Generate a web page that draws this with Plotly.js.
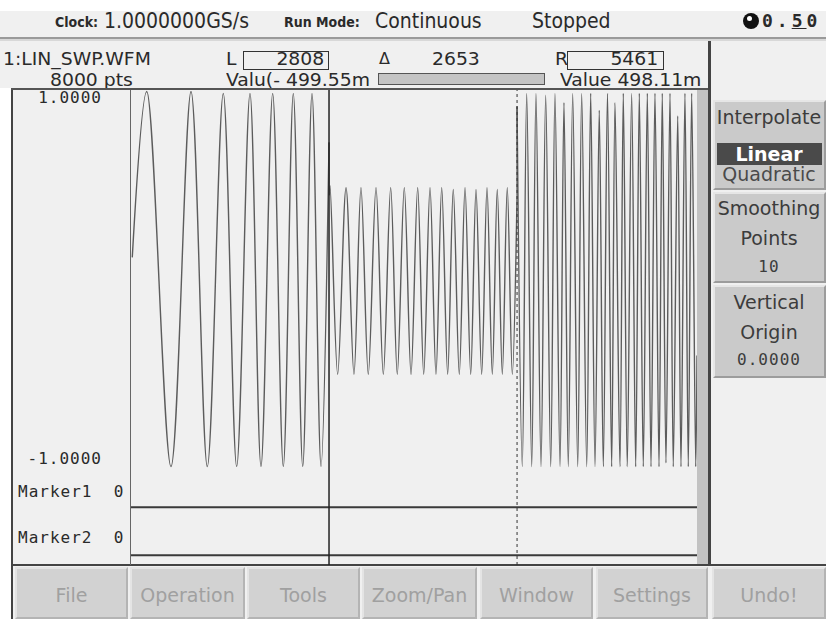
<!DOCTYPE html>
<html><head><meta charset="utf-8">
<script src="https://cdn.plot.ly/plotly-3.0.1.min.js"></script>
<style>
body{margin:0;width:826px;height:619px;overflow:hidden;background:#f0f0f0;position:relative;font-family:"DejaVu Sans",sans-serif;color:#2a2a2a}
.a{position:absolute;white-space:pre}
.b{position:absolute;box-sizing:border-box}
.cond{font-family:"DejaVu Sans Condensed","DejaVu Sans",sans-serif;font-stretch:condensed}
.mono{font-family:"DejaVu Sans Mono",monospace;letter-spacing:1px}
.wide{transform:scaleX(1.16);transform-origin:left center}
.wider{transform:scaleX(1.16);transform-origin:right center}
#plot{position:absolute;left:130px;top:90px;width:567px;height:475px}
</style></head><body>
<div id="chrome"></div>
<div id="plot"></div>
<script>
// ---------- data ----------
const totalPts = 8000;
const cursorL = 2808, cursorR = 5461, cursorDelta = 2653;
const valueL = "499.55m", valueR = "498.11m";
const seg1Idx = [32, 236, 578, 861, 1091, 1316, 1505, 1693, 1848, 2013, 2163, 2304, 2437, 2568, 2695, 2808];
const seg1Val = [0.12, 1.0, -0.99, 1.0, -0.99, 0.99, -0.99, 0.99, -0.99, 0.99, -0.99, 0.99, -0.99, 0.99, -0.99, 0.73];
const seg2Idx = [2808, 2822, 2930, 3048, 3160, 3259, 3362, 3471, 3574, 3678, 3771, 3870, 3965, 4059, 4144, 4233, 4317, 4398, 4482, 4561, 4646, 4727, 4807, 4882, 4962, 5037, 5112, 5182, 5253, 5323, 5394, 5461];
const seg2Val = [0.45, 0.5, -0.5, 0.49, -0.5, 0.49, -0.5, 0.49, -0.5, 0.49, -0.5, 0.49, -0.5, 0.49, -0.5, 0.49, -0.5, 0.49, -0.5, 0.48, -0.5, 0.49, -0.5, 0.48, -0.5, 0.49, -0.5, 0.48, -0.5, 0.49, -0.5, 0.45];
const seg3Idx = [5461, 5535, 5597, 5668, 5728, 5799, 5865, 5936, 5996, 6067, 6123, 6184, 6246, 6317, 6373, 6444, 6500, 6561, 6621, 6678, 6737, 6796, 6843, 6913, 6960, 7016, 7078, 7135, 7186, 7242, 7299, 7351, 7407, 7464, 7510, 7562, 7619, 7665, 7728, 7774, 7830, 7877, 7925, 7982, 8000];
const seg3Val = [0.92, -0.99, 0.99, -0.99, 0.99, -0.99, 0.98, -0.99, 0.99, -0.99, 0.94, -0.99, 0.99, -0.99, 0.99, -0.99, 0.99, -0.99, 0.9, -0.99, 0.99, -0.99, 0.94, -0.99, 0.99, -0.99, 0.99, -0.99, 0.99, -0.99, 0.99, -0.99, 0.99, -0.99, 0.99, -0.97, 0.99, -0.99, 0.87, -0.99, 0.99, -0.99, 0.99, -0.99, -0.4];
const markerIdx = [0, 8000];
const marker1Val = [0, 0];
const marker2Val = [0, 0];
const yTopLabel = "1.0000", yBottomLabel = "-1.0000";
const menuLabels = ["File", "Operation", "Tools", "Zoom/Pan", "Window", "Settings", "Undo!"];

// ---------- chrome ----------
const C = document.getElementById('chrome');
function box(x, y, w, h, css) { const d = document.createElement('div'); d.className = 'b'; d.style.cssText = `left:${x}px;top:${y}px;width:${w}px;height:${h}px;` + (css || ''); C.appendChild(d); return d; }
function txt(s, x, yc, size, cls, align, css, lh) {
  lh = lh || Math.round(size * 1.15);
  const d = document.createElement('div'); d.className = 'a ' + (cls || ''); d.textContent = s;
  d.style.cssText = `font-size:${size}px;height:${lh}px;line-height:${lh}px;top:${yc - lh / 2}px;` + (css || '');
  if (align === 'r') d.style.right = (826 - x) + 'px';
  else if (align === 'c') { d.style.left = (x - 100) + 'px'; d.style.width = '200px'; d.style.textAlign = 'center'; }
  else d.style.left = x + 'px';
  C.appendChild(d); return d;
}
box(0, 0, 826, 11, 'background:#fff');
box(0, 88, 12, 531, 'background:#fff');
// row 1
txt("Clock:", 55, 22, 14, 'cond', 'l', 'font-weight:bold');
txt("1.0000000GS/s", 104, 21, 21, 'cond', 'l', '', 20);
txt("Run Mode:", 284, 22, 14, 'cond', 'l', 'font-weight:bold');
txt("Continuous", 375, 21, 21, 'cond', 'l', '', 20);
txt("Stopped", 532, 21, 21, 'cond', 'l', '', 20);
box(743, 13, 16, 16, 'background:#111;border-radius:50%');
box(747, 16, 5, 5, 'background:#fff;border-radius:50%');
const k = txt("", 762, 21, 18, 'mono', 'l', 'font-weight:bold;letter-spacing:4px', 20);
k.innerHTML = '0.<u>5</u>0';
box(0, 37, 826, 2, 'background:#9a9a9a');
box(0, 39, 826, 2, 'background:#d8d8d8');
// row 2
const r2a = 59, r2b = 80;
txt("1:LIN_SWP.WFM", 3, r2a, 18, 'cond wide', 'l', '', 18);
txt(totalPts + " pts", 50, r2b, 18, 'cond wide', 'l', '', 18);
txt("L", 226, r2a, 18, 'cond wide', 'l', '', 18);
box(243, 51, 86, 19, 'border:1px solid #333');
txt(String(cursorL), 324, r2a, 18, 'cond wider', 'r', '', 18);
txt("Δ", 379, r2a, 16, '', 'l', '', 18);
txt(String(cursorDelta), 432, r2a, 18, 'cond wide', 'l', '', 18);
txt("R", 555, r2a, 18, 'cond wide', 'l', '', 18);
box(567, 51, 97, 19, 'border:1px solid #333');
txt(String(cursorR), 658, r2a, 18, 'cond wider', 'r', '', 18);
txt("Valu(- " + valueL, 226, r2b, 18, 'cond wide', 'l', '', 18);
box(378, 73, 167, 12, 'background:#c4c4c4;border:1px solid #555');
txt("Value " + valueR, 560, r2b, 18, 'cond wide', 'l', '', 18);
// panel frame
box(11, 88, 2, 531, 'background:#444');
box(11, 88, 700, 2, 'background:#555');
box(708, 41, 3, 525, 'background:#444');
box(697, 90, 11, 475, 'background:#c2c2c2');
box(11, 564, 815, 2, 'background:#444');
// left labels
txt(yTopLabel, 102, 98, 16, 'mono', 'r');
txt(yBottomLabel, 102, 459, 16, 'mono', 'r');
txt("Marker1  0", 18, 492, 16, 'mono');
txt("Marker2  0", 18, 538, 16, 'mono');
// side panel buttons
const bev = 'background:#cacaca;border-style:solid;border-width:2px;border-color:#e6e6e6 #9c9c9c #9c9c9c #e6e6e6';
box(713, 100, 113, 90, bev);
box(713, 192, 113, 91, bev);
box(713, 285, 113, 93, bev);
txt("Interpolate", 769, 117, 19, '', 'c', 'color:#3c3c3c');
box(717, 143, 105, 22, 'background:#4a4a4a');
txt("Linear", 769, 154, 19, '', 'c', 'color:#fff;font-weight:bold', 20);
txt("Quadratic", 769, 174, 19, '', 'c', 'color:#4a4a4a', 20);
txt("Smoothing", 769, 208, 19, '', 'c', 'color:#3c3c3c');
txt("Points", 769, 238, 19, '', 'c', 'color:#3c3c3c');
txt("10", 769, 267, 16, 'mono', 'c', 'color:#3c3c3c');
txt("Vertical", 769, 302, 19, '', 'c', 'color:#3c3c3c');
txt("Origin", 769, 332, 19, '', 'c', 'color:#3c3c3c');
txt("0.0000", 769, 360, 16, 'mono', 'c', 'color:#3c3c3c');
// bottom menu
const mx = [15, 130, 247, 362, 480, 596, 712], mw = [113, 115, 113, 115, 113, 112, 114];
menuLabels.forEach((m, i) => {
  box(mx[i], 567, mw[i], 52, 'background:#d2d2d2;border-style:solid;border-width:2px;border-color:#e4e4e4 #b4b4b4 #b4b4b4 #e4e4e4');
  txt(m, mx[i] + mw[i] / 2, 595, 19, '', 'c', 'color:#a0a0a0');
});

// ---------- plot ----------
const wave = { color: '#5c5c5c', width: 1.4, shape: 'spline', smoothing: 1 };
const traces = [
  { x: seg1Idx, y: seg1Val, mode: 'lines', line: wave },
  { x: seg2Idx, y: seg2Val, mode: 'lines', line: wave },
  { x: seg3Idx, y: seg3Val, mode: 'lines', line: wave },
  { x: [seg1Idx[seg1Idx.length - 1], seg2Idx[0]], y: [seg1Val[seg1Val.length - 1], seg2Val[0]], mode: 'lines', line: { color: '#5c5c5c', width: 1.4 } },
  { x: [seg2Idx[seg2Idx.length - 1], seg3Idx[0]], y: [seg2Val[seg2Val.length - 1], seg3Val[0]], mode: 'lines', line: { color: '#5c5c5c', width: 1.4 } },
  { x: markerIdx, y: marker1Val, mode: 'lines', yaxis: 'y2', line: { color: '#3a3a3a', width: 2 } },
  { x: markerIdx, y: marker2Val, mode: 'lines', yaxis: 'y3', line: { color: '#3a3a3a', width: 2 } }
];
const ax = { showgrid: false, zeroline: false, showticklabels: false, ticks: '', showline: false, fixedrange: true };
const layout = {
  width: 567, height: 475, margin: { l: 0, r: 0, t: 0, b: 0 },
  paper_bgcolor: 'rgba(0,0,0,0)', plot_bgcolor: 'rgba(0,0,0,0)', showlegend: false,
  xaxis: Object.assign({ range: [0, totalPts] }, ax),
  yaxis: Object.assign({ domain: [0.1895, 1], range: [-1.0345, 1.008] }, ax),
  yaxis2: Object.assign({ domain: [0.1158, 0.1789], range: [-0.1, 1] }, ax),
  yaxis3: Object.assign({ domain: [0.0147, 0.0947], range: [-0.079, 1] }, ax),
  shapes: [
    { type: 'line', xref: 'x', yref: 'paper', x0: cursorL, x1: cursorL, y0: 0, y1: 1, line: { color: '#222', width: 1.5 } },
    { type: 'line', xref: 'x', yref: 'paper', x0: cursorR, x1: cursorR, y0: 0, y1: 1, line: { color: '#333', width: 1, dash: 'dot' } },
    { type: 'line', xref: 'paper', yref: 'paper', x0: 0, x1: 0, y0: 0, y1: 1, line: { color: '#666', width: 2 } }
  ]
};
Plotly.newPlot('plot', traces, layout, { staticPlot: true, displayModeBar: false });
</script>
</body></html>
